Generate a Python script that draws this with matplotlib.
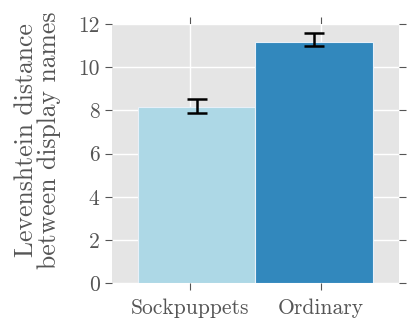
import matplotlib
matplotlib.use("Agg")
import matplotlib.pyplot as plt
import numpy as np

categories = ["Sockpuppets", "Ordinary"]
means = [8.18, 11.16]
ci_low = [7.88, 11.0]
ci_high = [8.55, 11.57]
colors = ["#ADD8E6", "#3288BD"]
yticks = [0, 2, 4, 6, 8, 10, 12]

plt.style.use("ggplot")
plt.rcParams["font.family"] = "serif"
plt.rcParams["font.serif"] = ["cmr10"]
plt.rcParams["mathtext.fontset"] = "cm"
plt.rcParams["axes.formatter.use_mathtext"] = True

fig = plt.figure(figsize=(4.15, 3.33), dpi=100)
ax = fig.add_axes([0.270, 0.149, 0.691, 0.779])
ax.set_facecolor("#E5E5E5")

x = np.arange(len(categories))
ax.bar(x, means, width=1.0, color=colors, edgecolor="#E8F0F8", linewidth=0.8, zorder=2)
mid = (np.array(ci_low) + np.array(ci_high)) / 2
ax.errorbar(x, mid, yerr=[mid - np.array(ci_low), np.array(ci_high) - mid], fmt="none",
            ecolor="black", elinewidth=1.8, capsize=7, capthick=1.8, zorder=3)

ax.set_xlim(-0.72, 1.72)
ax.set_ylim(0, 12)
ax.set_xticks([-0.06, 1.06])
ax.set_xticklabels(categories, fontsize=15.5, color="#555555")
ax.set_yticks(yticks)
ax.set_yticklabels([str(v) for v in yticks], fontsize=15.5, color="#555555")
ax.grid(True, color="white", linewidth=1.0, zorder=0)
ax.set_axisbelow(True)
for s in ax.spines.values():
    s.set_visible(False)
ax.tick_params(axis="both", which="both", direction="out", color="#555555",
               top=True, right=True, length=5, width=0.8)
ax.tick_params(axis="x", pad=6)
ax.tick_params(axis="y", pad=4)
ax.set_ylabel("Levenshtein distance\nbetween display names", fontsize=18.5,
              color="#555555", linespacing=0.95)
ax.yaxis.set_label_coords(-0.178, 0.553)

fig.savefig("out.png", dpi=100)
